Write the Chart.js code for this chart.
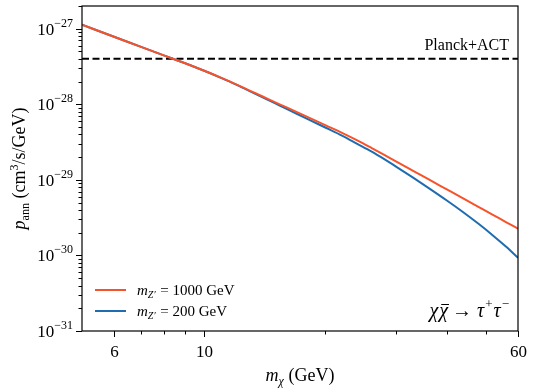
<!DOCTYPE html>
<html>
<head>
<meta charset="utf-8">
<script src="https://cdn.jsdelivr.net/npm/chart.js@4"></script>
<style>
  body { margin: 0; background: #fff; }
  #wrap { width: 534px; height: 391px; position: relative; }
</style>
</head>
<body>
<div id="wrap"><canvas id="chart"></canvas></div>
<script>
// dark matter mass (GeV)
const mChi = [5, 6, 7, 8, 9, 10, 11, 12, 13, 14, 15, 16, 18, 20, 22, 24, 26, 28, 30, 33, 36, 40, 44, 48, 52, 56, 60];
// p_ann (cm^3/s/GeV) for m_Z' = 1000 GeV
const pann1000 = [1.13e-27, 7.85e-28, 5.76e-28, 4.41e-28, 3.49e-28, 2.80e-28, 2.27e-28, 1.85e-28, 1.52e-28, 1.27e-28,
    1.07e-28, 9.17e-29, 6.87e-29, 5.30e-29, 4.20e-29, 3.34e-29, 2.66e-29, 2.14e-29, 1.75e-29, 1.32e-29,
    1.02e-29, 7.48e-30, 5.65e-30, 4.37e-30, 3.45e-30, 2.77e-30, 2.26e-30];
// p_ann (cm^3/s/GeV) for m_Z' = 200 GeV
const pann200 = [1.13e-27, 7.85e-28, 5.76e-28, 4.41e-28, 3.49e-28, 2.80e-28, 2.26e-28, 1.84e-28, 1.495e-28, 1.235e-28,
    1.035e-28, 8.75e-29, 6.48e-29, 4.93e-29, 3.85e-29, 3.00e-29, 2.38e-29, 1.88e-29, 1.49e-29, 1.07e-29,
    7.84e-30, 5.33e-30, 3.70e-30, 2.60e-30, 1.84e-30, 1.31e-30, 9.3e-31];
// Planck+ACT limit
const planckLimit = 4.0e-28;

const xMajor = [6, 10, 60];
const xMinor = [7, 8, 9, 20, 30, 40, 50];
const yExponents = [-31, -30, -29, -28, -27];

const FONT = '"Liberation Serif", "DejaVu Serif", serif';
const ORANGE = '#f6532c';
const BLUE = '#1f6cb0';

const toPts = (xs, ys) => xs.map((x, i) => ({ x: x, y: ys[i] }));

function line(ctx, x1, y1, x2, y2) {
    ctx.beginPath();
    ctx.moveTo(x1, y1);
    ctx.lineTo(x2, y2);
    ctx.stroke();
}

// draws a run of [text, size, italic, dy, extra gap] pieces, returns total width
function drawRuns(ctx, runs, x, y, align) {
    const widths = runs.map(r => {
        ctx.font = (r[2] ? 'italic ' : '') + r[1] + 'px ' + FONT;
        return ctx.measureText(r[0]).width + (r[4] || 0);
    });
    const total = widths.reduce((a, b) => a + b, 0);
    let cx = align === 'right' ? x - total : align === 'center' ? x - total / 2 : x;
    ctx.textAlign = 'left';
    runs.forEach((r, i) => {
        ctx.font = (r[2] ? 'italic ' : '') + r[1] + 'px ' + FONT;
        ctx.fillText(r[0], cx, y + (r[3] || 0));
        cx += widths[i];
    });
    return total;
}

const decor = {
    id: 'decor',
    afterDraw(chart) {
        const { ctx, chartArea: a, scales } = chart;
        const xs = scales.x, ys = scales.y;
        ctx.save();
        ctx.fillStyle = '#000';
        ctx.strokeStyle = '#000';
        ctx.textBaseline = 'alphabetic';

        // frame
        ctx.lineWidth = 1.2;
        ctx.strokeRect(a.left, a.top, a.right - a.left, a.bottom - a.top);

        // y ticks
        ctx.lineWidth = 1;
        yExponents.forEach(e => {
            for (let m = 1; m <= 9; m++) {
                const v = m * Math.pow(10, e);
                if (v < ys.min * 0.999 || v > ys.max * 1.001) continue;
                const py = Math.round(ys.getPixelForValue(v)) + 0.5;
                const len = m === 1 ? 6 : 3.5;
                line(ctx, a.left - len, py, a.left, py);
            }
            const py = ys.getPixelForValue(Math.pow(10, e));
            drawRuns(ctx, [['10', 17, false, 0], ['\u2212' + Math.abs(e), 12, false, -8]], a.left - 9, py + 6, 'right');
        });

        // x ticks
        xMajor.forEach(v => {
            const px = Math.round(xs.getPixelForValue(v)) + 0.5;
            line(ctx, px, a.bottom, px, a.bottom + 6);
            ctx.font = '17px ' + FONT;
            ctx.textAlign = 'center';
            ctx.fillText(String(v), px, a.bottom + 26);
        });
        xMinor.forEach(v => {
            const px = Math.round(xs.getPixelForValue(v)) + 0.5;
            line(ctx, px, a.bottom, px, a.bottom + 3.5);
        });

        // x title
        drawRuns(ctx, [['m', 18, true, 0], ['\u03c7', 12, true, 4], [' (GeV)', 18, false, 0]],
            (a.left + a.right) / 2, a.bottom + 50, 'center');

        // y title
        ctx.save();
        ctx.translate(25, (a.top + a.bottom) / 2);
        ctx.rotate(-Math.PI / 2);
        drawRuns(ctx, [['p', 18, true, 0], ['ann', 12, false, 4], [' (cm', 18, false, 0], ['3', 12, false, -7],
            ['/s/GeV)', 18, false, 0]], 0, 0, 'center');
        ctx.restore();

        // limit label
        ctx.font = '16px ' + FONT;
        ctx.textAlign = 'right';
        ctx.fillText('Planck+ACT', a.right - 9, ys.getPixelForValue(planckLimit) - 9);

        // process label
        const ly = a.bottom - 14;
        const xEnd = a.right - 9;
        const runs = [['\u03c7', 20, true, 0, 1], ['\u03c7', 20, true, 0, 4], ['\u2192', 20, false, 0, 5],
            ['\u03c4', 20, true, 0, 1], ['+', 13, false, -9, 1], ['\u03c4', 20, true, 0, 1], ['\u2212', 13, false, -9]];
        const w = drawRuns(ctx, runs, xEnd, ly, 'right');
        ctx.font = 'italic 20px ' + FONT;
        const cw = ctx.measureText('\u03c7').width + 1;
        const bx = xEnd - w + cw;
        ctx.lineWidth = 1;
        line(ctx, bx + 2, ly - 12.5, bx + cw, ly - 12.5);

        // legend
        const legend = [[ORANGE, '1000'], [BLUE, '200']];
        legend.forEach((it, i) => {
            const yy = 290 + i * 21;
            ctx.strokeStyle = it[0];
            ctx.lineWidth = 2;
            line(ctx, a.left + 13, yy, a.left + 44, yy);
            ctx.fillStyle = '#000';
            drawRuns(ctx, [['m', 15, true, 0], ['Z\u2032', 10, true, 3, 1], [' = ' + it[1] + ' GeV', 15, false, 0]],
                a.left + 55, yy + 5, 'left');
        });
        ctx.restore();
    }
};

new Chart(document.getElementById('chart'), {
    type: 'line',
    data: {
        datasets: [
            {
                label: "m_Z' = 1000 GeV",
                data: toPts(mChi, pann1000),
                borderColor: ORANGE,
                borderWidth: 2,
                pointRadius: 0,
                cubicInterpolationMode: 'monotone'
            },
            {
                label: "m_Z' = 200 GeV",
                data: toPts(mChi, pann200),
                borderColor: BLUE,
                borderWidth: 2,
                pointRadius: 0,
                cubicInterpolationMode: 'monotone'
            },
            {
                label: 'Planck+ACT',
                data: toPts([5, 60], [planckLimit, planckLimit]),
                borderColor: '#000',
                borderWidth: 2,
                borderDash: [7, 3.5],
                pointRadius: 0
            }
        ]
    },
    options: {
        responsive: true,
        maintainAspectRatio: false,
        animation: false,
        events: [],
        layout: { padding: { left: 0, top: 6, right: 16, bottom: 0 } },
        plugins: { legend: { display: false }, tooltip: { enabled: false } },
        scales: {
            x: {
                type: 'logarithmic',
                min: 5,
                max: 60,
                grid: { display: false },
                border: { display: false },
                ticks: { display: false },
                afterFit: s => { s.height = 60; }
            },
            y: {
                type: 'logarithmic',
                min: 1e-31,
                max: 2e-27,
                grid: { display: false },
                border: { display: false },
                ticks: { display: false },
                afterFit: s => { s.width = 82; }
            }
        }
    },
    plugins: [decor]
});
</script>
</body>
</html>
